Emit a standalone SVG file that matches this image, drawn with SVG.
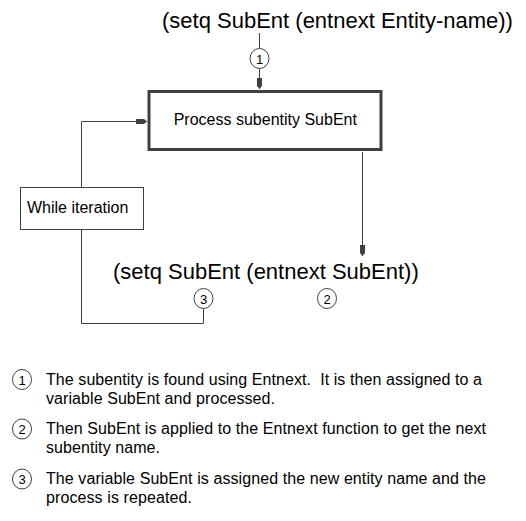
<svg xmlns="http://www.w3.org/2000/svg" width="526" height="521" viewBox="0 0 526 521">
<style>
text{font-family:"Liberation Sans",Arial,sans-serif;fill:#000}
.big{font-size:22px}
.mid{font-size:16px}
.leg{font-size:16px}
.num{font-size:13px;text-anchor:middle}
.ln{fill:none;stroke:#404040;stroke-width:1}
.cir{fill:#fff;stroke:#404040;stroke-width:1}
</style>
<defs>
<marker id="ah" markerUnits="userSpaceOnUse" markerWidth="12" markerHeight="8" viewBox="0 -4 12 8" refX="11" refY="0" orient="auto">
<path d="M0,-2.5 L8,-2.5 L11,0 L8,2.5 L0,2.5 Z" fill="#404040"/>
</marker>
</defs>
<rect width="526" height="521" fill="#fff"/>
<g id="connectors">
<path class="ln" d="M259.5,33 V49"/>
<path class="ln" d="M259.5,68 V89" marker-end="url(#ah)"/>
<path class="ln" d="M81.5,187 V121.5 H147" marker-end="url(#ah)"/>
<path class="ln" d="M81.5,229 V323.5 H203.5 V308"/>
<path class="ln" d="M362.5,152 V256" marker-end="url(#ah)"/>
</g>
<g id="label-top">
<text class="big" x="162" y="28">(setq SubEnt (entnext Entity-name))</text>
</g>
<g id="callout1">
<ellipse class="cir" cx="259.5" cy="58.5" rx="9.5" ry="10"/>
<text class="num" x="259.5" y="63.5">1</text>
</g>
<g id="process">
<rect x="149" y="91.5" width="232" height="58" fill="#fff" stroke="#404040" stroke-width="3"/>
<text class="mid" x="265.3" y="125" text-anchor="middle">Process subentity SubEnt</text>
</g>
<g id="while">
<rect x="20.5" y="187.5" width="123" height="42" fill="#fff" stroke="#404040" stroke-width="1"/>
<text class="mid" x="27" y="213">While iteration</text>
</g>
<g id="label-bottom">
<text class="big" x="113" y="279">(setq SubEnt (entnext SubEnt))</text>
</g>
<g id="callout3">
<ellipse class="cir" cx="203.5" cy="298.5" rx="9.5" ry="10"/>
<text class="num" x="203.5" y="303.5">3</text>
</g>
<g id="callout2">
<ellipse class="cir" cx="327" cy="298.5" rx="9.5" ry="10"/>
<text class="num" x="327" y="303.5">2</text>
</g>
<g id="legend">
<ellipse class="cir" cx="22" cy="379.5" rx="9.5" ry="10"/>
<text class="num" x="22" y="384.5">1</text>
<text class="leg" x="46" y="385" xml:space="preserve" textLength="436" lengthAdjust="spacing">The subentity is found using Entnext.  It is then assigned to a</text>
<text class="leg" x="46" y="404" textLength="229" lengthAdjust="spacing">variable SubEnt and processed.</text>
<ellipse class="cir" cx="22" cy="429" rx="9.5" ry="10"/>
<text class="num" x="22" y="434">2</text>
<text class="leg" x="46" y="434" textLength="440" lengthAdjust="spacing">Then SubEnt is applied to the Entnext function to get the next</text>
<text class="leg" x="46" y="453" textLength="114" lengthAdjust="spacing">subentity name.</text>
<ellipse class="cir" cx="22" cy="479" rx="9.5" ry="10"/>
<text class="num" x="22" y="484">3</text>
<text class="leg" x="46" y="484" textLength="440" lengthAdjust="spacing">The variable SubEnt is assigned the new entity name and the</text>
<text class="leg" x="46" y="503" textLength="146" lengthAdjust="spacing">process is repeated.</text>
</g>
</svg>
